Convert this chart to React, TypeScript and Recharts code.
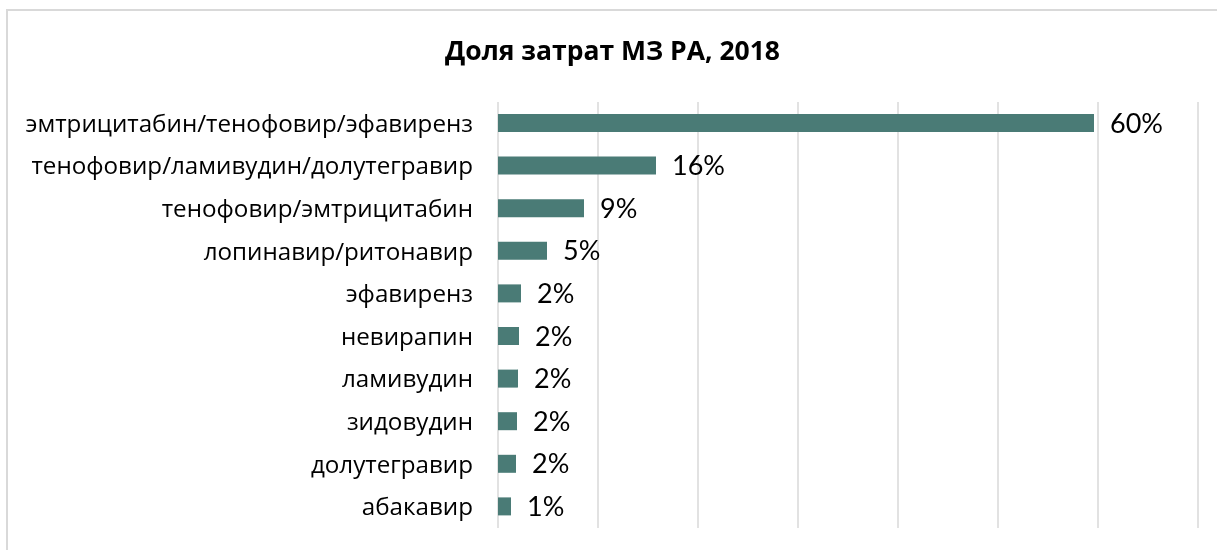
import { BarChart, Bar, XAxis, YAxis, CartesianGrid, LabelList } from "recharts";

const drugs = [
  "эмтрицитабин/тенофовир/эфавиренз",
  "тенофовир/ламивудин/долутегравир",
  "тенофовир/эмтрицитабин",
  "лопинавир/ритонавир",
  "эфавиренз",
  "невирапин",
  "ламивудин",
  "зидовудин",
  "долутегравир",
  "абакавир",
];

// share of spend, percent (labels are rounded)
const shares = [59.6, 15.8, 8.6, 4.9, 2.3, 2.1, 2.0, 1.9, 1.8, 1.3];

const xTicks = [0, 10, 20, 30, 40, 50, 60, 70];

const title = "Доля затрат МЗ РА, 2018";

const data = drugs.map((name, i) => ({ name, value: shares[i] }));

export default function App() {
  return (
    <div style={{ position: "relative", width: 1209, height: 534 }}>
      <div
        style={{
          position: "fixed",
          left: 6,
          top: 9,
          width: 1300,
          height: 700,
          border: "2px solid #d9d9d9",
          boxSizing: "border-box",
        }}
      />
      <div
        style={{
          position: "absolute",
          left: 0,
          width: 1209,
          top: 24,
          textAlign: "center",
          fontFamily: "'Open Sans', sans-serif",
          fontWeight: 700,
          fontSize: 26.5,
          color: "#000",
        }}
      >
        {title}
      </div>
      <BarChart
        width={1209}
        height={530}
        data={data}
        layout="vertical"
        margin={{ top: 94, right: 19, bottom: 10, left: 0 }}
        style={{ position: "absolute", left: 0, top: 0 }}
      >
        <CartesianGrid horizontal={false} stroke="#d9d9d9" strokeWidth={1.5} />
        <XAxis type="number" domain={[0, 70]} ticks={xTicks} hide />
        <YAxis
          type="category"
          dataKey="name"
          width={490}
          axisLine={false}
          tickLine={false}
          tickSize={0}
          tickMargin={25}
          interval={0}
          tick={{ fill: "#000", fontSize: 24.2, fontFamily: "'Open Sans', sans-serif" }}
        />
        <Bar dataKey="value" fill="#4a7b76" barSize={18} isAnimationActive={false}>
          <LabelList
            dataKey="value"
            position="right"
            offset={16}
            formatter={(v: number) => `${Math.round(v)}%`}
            style={{ fill: "#000", fontSize: 27, fontFamily: "Lato, sans-serif" }}
          />
        </Bar>
      </BarChart>
    </div>
  );
}
